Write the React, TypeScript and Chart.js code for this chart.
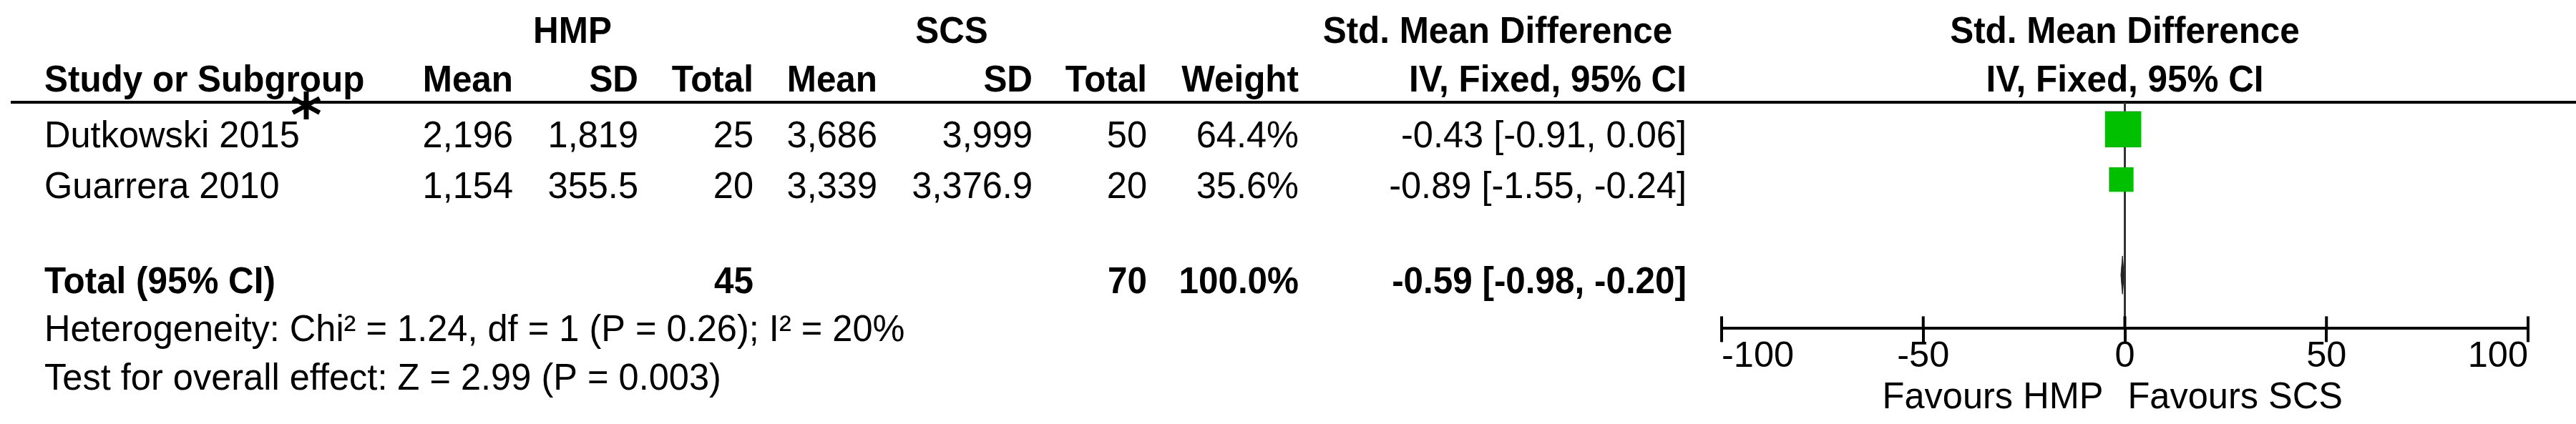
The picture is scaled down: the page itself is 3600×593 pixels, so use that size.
import React, { useEffect, useRef } from 'react';
import { Chart, registerables } from 'chart.js';

Chart.register(...registerables);

// ---- data ----
const studies = ['Dutkowski 2015', 'Guarrera 2010'];
const hmpMean = ['2,196', '1,154'];
const hmpSd = ['1,819', '355.5'];
const hmpN = [25, 20];
const scsMean = ['3,686', '3,339'];
const scsSd = ['3,999', '3,376.9'];
const scsN = [50, 20];
const weights = [64.4, 35.6];
const smd = [-0.43, -0.89];
const ciLow = [-0.91, -1.55];
const ciHigh = [0.06, -0.24];
const totalHmpN = 45;
const totalScsN = 70;
const totalWeight = 100.0;
const totalSmd = -0.59;
const totalLow = -0.98;
const totalHigh = -0.2;
const xTicks = [-100, -50, 0, 50, 100];
const groupHeaders = ['HMP', 'SCS', 'Std. Mean Difference', 'Std. Mean Difference'];
const columnHeaders = ['Study or Subgroup', 'Mean', 'SD', 'Total', 'Mean', 'SD', 'Total', 'Weight', 'IV, Fixed, 95% CI', 'IV, Fixed, 95% CI'];
const totalLabel = 'Total (95% CI)';
const heterogeneity = 'Heterogeneity: Chi\u00B2 = 1.24, df = 1 (P = 0.26); I\u00B2 = 20%';
const overallEffect = 'Test for overall effect: Z = 2.99 (P = 0.003)';
const favours = ['Favours HMP', 'Favours SCS'];

// ---- layout / style ----
const W = 3600;
const H = 593;
const FONT = '"Liberation Sans", Arial, sans-serif';
const FS = 52;
const SX_REG = 0.972;
const SX_BOLD = 0.95;
const TOTAL_ROW = 3.9;
const Y_MIN = 0.463;
const Y_MAX = 4.963;
const colRight = [717, 892, 1053, 1226, 1443, 1603, 1815, 2357];
const groupCenter = [800, 1330, 2093];
const LEFT_X = 62;

const fmt2 = (v: number) => v.toFixed(2);
const ciText = (e: number, l: number, h: number) => `${fmt2(e)} [${fmt2(l)}, ${fmt2(h)}]`;

const tablePlugin = {
  id: 'forestTable',
  beforeDatasetsDraw(chart: any) {
    const ctx = chart.ctx;
    const area = chart.chartArea;
    ctx.save();
    ctx.strokeStyle = '#000';
    ctx.lineWidth = 4;
    ctx.beginPath();
    ctx.moveTo(15, area.top);
    ctx.lineTo(chart.width, area.top);
    ctx.stroke();
    ctx.restore();
  },
  afterDraw(chart: any) {
    const ctx = chart.ctx;
    const xs = chart.scales.x;
    const ys = chart.scales.y;
    const area = chart.chartArea;
    const zero = xs.getPixelForValue(0);
    const axisY = area.bottom;

    ctx.save();
    // upper halves of the axis tick marks
    ctx.strokeStyle = '#000';
    ctx.lineWidth = 4;
    xTicks.forEach((t) => {
      const px = xs.getPixelForValue(t);
      ctx.beginPath();
      ctx.moveTo(px, axisY - 17);
      ctx.lineTo(px, axisY);
      ctx.stroke();
    });

    const text = (s: string, x: number, y: number, align: CanvasTextAlign, bold: boolean) => {
      ctx.save();
      ctx.font = `${bold ? 'bold ' : ''}${FS}px ${FONT}`;
      ctx.textAlign = align;
      ctx.textBaseline = 'alphabetic';
      ctx.fillStyle = '#000';
      ctx.translate(x, y);
      ctx.scale(bold ? SX_BOLD : SX_REG, 1);
      ctx.fillText(s, 0, 0);
      ctx.restore();
    };

    // group headers
    text(groupHeaders[0], groupCenter[0], 60, 'center', true);
    text(groupHeaders[1], groupCenter[1], 60, 'center', true);
    text(groupHeaders[2], groupCenter[2], 60, 'center', true);
    text(groupHeaders[3], zero, 60, 'center', true);

    // column headers
    text(columnHeaders[0], LEFT_X, 128, 'left', true);
    for (let i = 1; i <= 8; i++) text(columnHeaders[i], colRight[i - 1], 128, 'right', true);
    text(columnHeaders[9], zero, 128, 'center', true);

    // study rows
    studies.forEach((name, i) => {
      const by = ys.getPixelForValue(i + 1) + 25.5;
      text(name, LEFT_X, by, 'left', false);
      text(hmpMean[i], colRight[0], by, 'right', false);
      text(hmpSd[i], colRight[1], by, 'right', false);
      text(String(hmpN[i]), colRight[2], by, 'right', false);
      text(scsMean[i], colRight[3], by, 'right', false);
      text(scsSd[i], colRight[4], by, 'right', false);
      text(String(scsN[i]), colRight[5], by, 'right', false);
      text(`${weights[i].toFixed(1)}%`, colRight[6], by, 'right', false);
      text(ciText(smd[i], ciLow[i], ciHigh[i]), colRight[7], by, 'right', false);
    });

    // total row
    const ty = ys.getPixelForValue(TOTAL_ROW) + 25.5;
    text(totalLabel, LEFT_X, ty, 'left', true);
    text(String(totalHmpN), colRight[2], ty, 'right', true);
    text(String(totalScsN), colRight[5], ty, 'right', true);
    text(`${totalWeight.toFixed(1)}%`, colRight[6], ty, 'right', true);
    text(ciText(totalSmd, totalLow, totalHigh), colRight[7], ty, 'right', true);

    // footer
    text(heterogeneity, LEFT_X, 477, 'left', false);
    text(overallEffect, LEFT_X, 545, 'left', false);

    // favours labels
    text(favours[0], zero - 30, 571, 'right', false);
    text(favours[1], zero + 4, 571, 'left', false);

    // stray asterisk mark on the header rule
    ctx.font = `bold 84px "DejaVu Sans", sans-serif`;
    ctx.textAlign = 'center';
    ctx.textBaseline = 'alphabetic';
    ctx.fillStyle = '#000';
    ctx.fillText('*', 428, 190);
    ctx.restore();
  },
};

export default function App() {
  const ref = useRef<HTMLCanvasElement | null>(null);

  useEffect(() => {
    document.body.style.margin = '0';
    const canvas = ref.current;
    if (!canvas) return;

    const whiskers = studies.map((_, i) => ({
      type: 'line' as const,
      data: [
        { x: ciLow[i], y: i + 1 },
        { x: ciHigh[i], y: i + 1 },
      ],
      borderColor: '#000',
      borderWidth: 3,
      pointRadius: 0,
      order: 2,
    }));

    const chart = new Chart(canvas, {
      type: 'scatter',
      data: {
        datasets: [
          {
            type: 'line',
            data: [
              { x: 0, y: Y_MIN },
              { x: 0, y: Y_MAX },
            ],
            borderColor: '#333',
            borderWidth: 3,
            pointRadius: 0,
            order: 3,
          } as any,
          ...whiskers,
          {
            type: 'scatter',
            data: studies.map((_, i) => ({ x: smd[i], y: i + 1 })),
            pointStyle: 'rect',
            pointRadius: weights.map((w) => (14 + w * 0.57) / Math.SQRT2),
            backgroundColor: '#00C000',
            borderColor: '#00C000',
            borderWidth: 0,
            order: 0,
          } as any,
          {
            type: 'line',
            data: [
              { x: totalLow, y: TOTAL_ROW },
              { x: totalSmd, y: TOTAL_ROW - 0.38 },
              { x: totalHigh, y: TOTAL_ROW },
              { x: totalSmd, y: TOTAL_ROW + 0.38 },
              { x: totalLow, y: TOTAL_ROW },
            ],
            borderColor: '#222',
            backgroundColor: '#222',
            borderWidth: 1,
            fill: 'shape',
            pointRadius: 0,
            tension: 0,
            order: 1,
          } as any,
        ],
      },
      options: {
        responsive: false,
        animation: false,
        events: [],
        devicePixelRatio: 1,
        layout: { padding: { left: 2406, right: 67, top: 143, bottom: 74 } },
        plugins: { legend: { display: false }, tooltip: { enabled: false }, title: { display: false } },
        scales: {
          x: {
            type: 'linear',
            position: 'bottom',
            min: -100,
            max: 100,
            afterBuildTicks: (scale: any) => {
              scale.ticks = xTicks.map((v) => ({ value: v }));
            },
            ticks: {
              align: 'inner',
              font: { family: FONT, size: 50.5 },
              color: '#000',
              padding: -10,
              maxRotation: 0,
              autoSkip: false,
            },
            grid: {
              display: true,
              drawOnChartArea: false,
              drawTicks: true,
              tickLength: 19,
              tickWidth: 4,
              tickColor: '#000',
              color: '#000',
              lineWidth: 4,
            },
            border: { display: true, color: '#000', width: 4 },
          },
          y: {
            type: 'linear',
            min: Y_MIN,
            max: Y_MAX,
            reverse: true,
            display: false,
          },
        },
      },
      plugins: [tablePlugin],
    } as any);

    return () => chart.destroy();
  }, []);

  return (
    <div style={{ width: W, height: H, background: '#fff' }}>
      <canvas ref={ref} width={W} height={H} style={{ display: 'block', width: W, height: H }} />
    </div>
  );
}
